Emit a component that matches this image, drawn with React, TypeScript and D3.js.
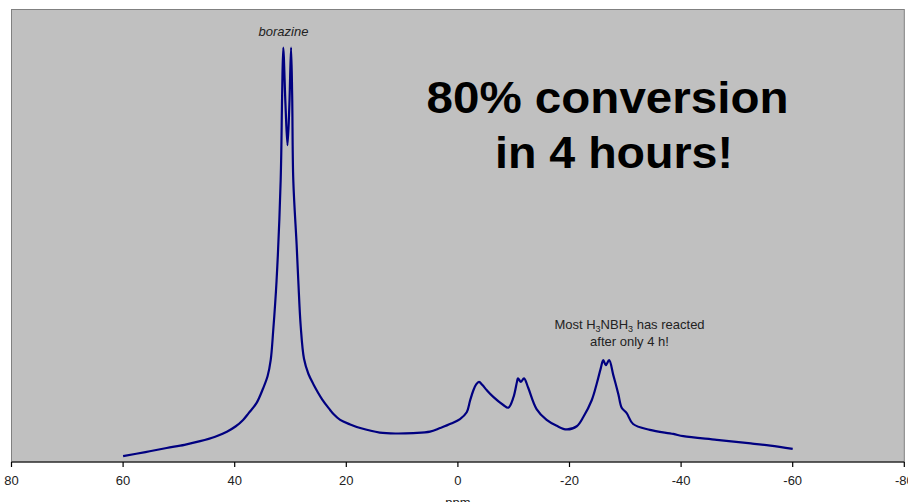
import React from "react";
import * as d3 from "d3";

// 11B NMR spectrum: chemical shift (ppm) and intensity (arbitrary units)
const shiftPpm: number[] = [
  60, 56, 52.2, 49, 46.2, 43.5, 41.4, 39.8, 38.5, 37.5, 36.1, 34.9, 34.1, 33.55,
  33.1, 32.5, 31.76, 31.5, 31.3, 30.9, 30.54, 30.2, 29.9, 29.7, 29.5, 28.9, 28.6,
  28.17, 27.58, 26.8, 25.9, 24.3, 22.9, 22.3, 21.1, 19.3, 17.5, 14, 11, 8, 5.0,
  3.2, 1.2, -0.38, -1.58, -2.17, -2.76, -3.3, -3.78, -4.4, -5.16, -6.34, -8.14,
  -9.03, -9.93, -10.6, -10.77, -11.3, -11.85, -12.6, -14.1, -15.9, -17.7, -19.5,
  -21.3, -22.5, -24.0, -24.9, -25.6, -26.05, -26.5, -27.1, -27.85, -28.75, -29.35,
  -30.25, -31.4, -34.4, -38.6, -40.4, -46.4, -52.5, -56, -60,
];
const intensity: number[] = [
  13, 22, 31, 38, 46, 56, 67, 79, 93, 108, 130, 163, 190, 225,
  290, 400, 623, 810, 916, 790, 700, 790, 916, 810, 623, 480, 400,
  300, 228, 195, 172, 138, 115, 106, 93, 83, 75, 65, 63, 64, 67,
  75, 85, 95, 110, 135, 158, 172, 177, 170, 159, 144, 126,
  120, 142, 178, 185, 177, 185, 164, 117, 93, 80, 72,
  79, 100, 137, 174, 207, 225, 214, 225, 192, 150, 120,
  108, 84, 71, 62, 57, 49, 41, 36, 29,
];

// Axis ticks
const tickValues: number[] = [80, 60, 40, 20, 0, -20, -40, -60, -80];

// Annotations
const peakLabel = "borazine";
const headline: string[] = ["80% conversion", "in 4 hours!"];
const xAxisTitle = "ppm";

const W = 908;
const H = 502;
const left = 11.5;
const right = 904.3;
const top = 9.5;
const bottom = 462;
const font = "'Liberation Sans', Arial, Helvetica, sans-serif";

export default function App() {
  const x = d3.scaleLinear().domain([80, -80]).range([left, right]);
  const y = d3.scaleLinear().domain([0, 1000]).range([bottom, top]);

  const pts: [number, number][] = shiftPpm.map((p, i) => [x(p), y(intensity[i])]);
  const line = d3
    .line<[number, number]>()
    .x((d) => d[0])
    .y((d) => d[1])
    .curve(d3.curveCatmullRom.alpha(0.5));

  return (
    <svg
      width={W}
      height={H}
      style={{ position: "absolute", left: 0, top: 0, background: "#ffffff" }}
    >
      {/* plot area */}
      <rect
        x={left}
        y={top}
        width={right - left}
        height={bottom - top}
        fill="#c0c0c0"
        stroke="#808080"
        strokeWidth={1}
      />

      {/* spectrum */}
      <path
        d={line(pts) || ""}
        fill="none"
        stroke="#000080"
        strokeWidth={2.2}
        strokeLinejoin="round"
      />

      {/* x axis */}
      <line x1={left} x2={right} y1={bottom} y2={bottom} stroke="#000" strokeWidth={1.2} />
      {tickValues.map((t) => (
        <g key={t}>
          <line x1={x(t)} x2={x(t)} y1={bottom} y2={bottom + 5} stroke="#000" strokeWidth={1.2} />
          <text
            x={x(t)}
            y={484.5}
            textAnchor="middle"
            fontFamily={font}
            fontSize={13}
            fill="#222"
          >
            {t}
          </text>
        </g>
      ))}
      <text x={x(0)} y={507} textAnchor="middle" fontFamily={font} fontSize={13} fill="#222">
        {xAxisTitle}
      </text>

      {/* annotations */}
      <text
        x={283.5}
        y={35.5}
        textAnchor="middle"
        fontFamily={font}
        fontSize={13}
        fontStyle="italic"
        fill="#222"
      >
        {peakLabel}
      </text>

      <text
        x={607.5}
        y={113.3}
        textAnchor="middle"
        fontFamily={font}
        fontSize={44}
        fontWeight="bold"
        fill="#000"
        textLength={362}
        lengthAdjust="spacingAndGlyphs"
      >
        {headline[0]}
      </text>
      <text
        x={614}
        y={168.3}
        textAnchor="middle"
        fontFamily={font}
        fontSize={44}
        fontWeight="bold"
        fill="#000"
        textLength={238}
        lengthAdjust="spacingAndGlyphs"
      >
        {headline[1]}
      </text>

      <text x={629.5} y={329.3} textAnchor="middle" fontFamily={font} fontSize={13} fill="#222">
        Most H<tspan fontSize={9} dy={3}>3</tspan>
        <tspan dy={-3}>NBH</tspan>
        <tspan fontSize={9} dy={3}>3</tspan>
        <tspan dy={-3}> has reacted</tspan>
      </text>
      <text x={629.5} y={346} textAnchor="middle" fontFamily={font} fontSize={13} fill="#222">
        after only 4 h!
      </text>
    </svg>
  );
}
